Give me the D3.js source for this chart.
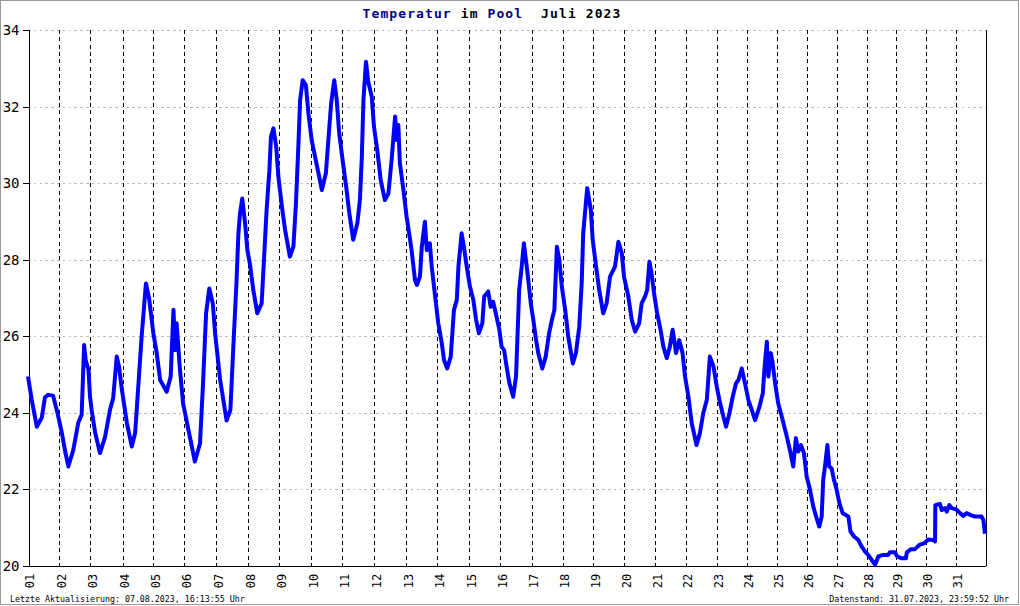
<!DOCTYPE html>
<html><head><meta charset="utf-8">
<script src="https://cdn.jsdelivr.net/npm/d3@7"></script>
<style>body{margin:0;background:#fff}svg{display:block}</style>
</head><body>
<svg id="c" width="1020" height="606"></svg>
<script>
// ---- data ----
const dayLabels = ["01","02","03","04","05","06","07","08","09","10","11","12","13","14","15","16","17","18","19","20","21","22","23","24","25","26","27","28","29","30","31"];
// number of logged measurements per day (x axis advances per measurement)
const samplesPerDay = [282,279,290,277,279,288,288,279,288,279,288,288,279,288,279,283,279,275,279,279,279,272,270,277,270,270,270,261,270,263,270];
const yTicks = [20,22,24,26,28,30,32,34];
// time in days since 01.07.2023 00:00
const time = [
0.00,0.12,0.28,0.44,0.54,0.64,0.80,0.86,0.94,
1.08,1.18,1.29,1.45,1.61,1.72,1.80,1.85,1.94,
1.99,2.04,2.15,2.30,2.46,2.61,2.71,2.82,2.89,2.98,
3.14,3.30,3.41,3.51,3.62,3.76,3.87,
4.00,4.11,4.22,4.43,4.56,4.65,4.70,4.75,4.86,4.96,
5.13,5.33,5.49,5.59,5.68,5.78,5.89,5.96,
6.12,6.32,6.44,6.53,6.63,6.69,6.74,6.81,6.90,6.97,
7.05,7.16,7.29,7.43,7.51,7.59,7.68,7.73,7.81,7.90,7.97,
8.08,8.18,8.33,8.44,8.52,8.59,8.65,8.73,8.83,8.91,
9.01,9.12,9.23,9.34,9.47,9.55,9.64,9.74,9.82,9.90,
10.01,10.12,10.22,10.34,10.47,10.55,10.61,10.66,10.74,10.81,10.92,
10.99,11.09,11.20,11.33,11.44,11.54,11.65,11.70,11.75,11.80,11.91,
12.01,12.06,12.17,12.28,12.34,12.44,12.50,12.60,12.66,12.76,12.82,12.93,
13.03,13.14,13.21,13.31,13.42,13.52,13.61,13.66,13.76,13.83,13.92,
14.02,14.13,14.22,14.31,14.42,14.48,14.61,14.69,14.77,14.88,14.97,
15.04,15.12,15.20,15.29,15.41,15.50,15.55,15.60,15.68,15.75,15.84,15.89,15.97,
16.05,16.14,16.21,16.34,16.45,16.56,16.65,16.73,16.81,16.89,16.97,
17.08,17.18,17.33,17.43,17.54,17.62,17.67,17.80,17.92,17.98,
18.09,18.19,18.32,18.43,18.54,18.70,18.81,18.92,
18.99,19.13,19.24,19.35,19.48,19.56,19.67,19.74,19.81,19.88,19.96,
20.06,20.17,20.26,20.37,20.47,20.56,20.67,20.77,20.88,20.96,
21.07,21.18,21.34,21.45,21.56,21.68,21.78,21.90,
22.01,22.12,22.23,22.32,22.43,22.54,22.65,22.73,22.84,22.95,
23.06,23.17,23.28,23.42,23.53,23.58,23.66,23.71,23.79,23.85,23.93,
24.03,24.15,24.29,24.42,24.53,24.62,24.70,24.79,24.89,
24.98,25.09,25.20,25.31,25.40,25.48,25.53,25.59,25.67,25.73,25.81,25.89,25.98,
26.07,26.18,26.29,26.37,26.44,26.56,26.70,26.81,26.92,
27.03,27.15,27.27,27.38,27.55,27.72,27.78,27.95,
28.03,28.18,28.32,28.35,28.48,28.62,28.77,28.92,
29.07,29.24,29.30,29.31,29.47,29.53,29.64,29.70,29.79,29.87,
30.02,30.15,30.26,30.37,30.51,30.65,30.87,30.93,30.98];
const temp = [
24.95,24.34,23.64,23.87,24.40,24.47,24.45,24.26,24.00,
23.48,23.03,22.60,23.03,23.74,23.95,25.77,25.38,25.12,
24.42,24.08,23.48,22.95,23.38,24.08,24.39,25.47,25.21,24.60,
23.74,23.12,23.48,24.68,25.99,27.38,26.95,
26.08,25.56,24.86,24.55,24.95,26.69,25.64,26.34,25.12,24.25,
23.55,22.73,23.20,24.86,26.60,27.25,26.86,26.10,
24.86,23.80,24.08,25.70,27.40,28.69,29.21,29.60,28.95,28.25,
27.90,27.21,26.60,26.86,28.08,29.30,30.34,31.21,31.43,30.95,30.17,
29.39,28.78,28.08,28.34,29.47,30.87,32.17,32.69,32.56,31.82,
31.13,30.69,30.26,29.82,30.26,31.13,32.09,32.69,32.17,31.30,
30.60,29.91,29.21,28.52,28.95,29.56,30.69,32.17,33.17,32.65,32.26,
31.47,30.87,30.08,29.56,29.73,30.60,31.74,31.13,31.52,30.52,29.82,
29.12,28.86,28.25,27.47,27.34,27.56,28.34,28.99,28.25,28.43,27.82,27.04,
26.34,25.82,25.38,25.16,25.47,26.69,26.95,27.82,28.69,28.34,27.82,
27.30,26.95,26.43,26.08,26.34,27.04,27.17,26.77,26.90,26.51,26.17,
25.73,25.64,25.21,24.77,24.42,24.95,26.08,27.21,27.82,28.43,27.82,27.47,26.86,
26.43,25.90,25.56,25.16,25.47,26.08,26.43,26.69,28.34,27.99,27.30,
26.69,25.99,25.29,25.56,26.25,27.38,28.69,29.87,29.30,28.52,
27.82,27.21,26.60,26.86,27.56,27.82,28.47,28.17,
27.56,27.04,26.43,26.12,26.34,26.86,27.04,27.21,27.95,27.64,27.12,
26.60,26.17,25.73,25.43,25.73,26.17,25.56,25.90,25.56,24.95,
24.42,23.73,23.16,23.47,23.99,24.34,25.47,25.21,
24.68,24.25,23.90,23.64,23.99,24.42,24.77,24.86,25.16,24.77,
24.34,24.08,23.81,24.16,24.51,25.12,25.86,24.95,25.56,25.29,24.77,
24.25,23.90,23.47,23.03,22.60,23.34,22.99,23.16,22.94,
22.33,21.99,21.55,21.25,21.03,21.29,22.25,22.60,23.16,22.60,22.55,22.25,21.99,
21.64,21.38,21.33,21.29,20.90,20.77,20.68,20.51,20.38,
20.29,20.16,20.03,20.25,20.29,20.29,20.36,20.36,
20.25,20.20,20.20,20.35,20.44,20.44,20.55,20.59,
20.69,20.68,20.64,21.59,21.62,21.46,21.51,21.42,21.59,21.51,
21.48,21.38,21.31,21.38,21.33,21.29,21.29,21.20,20.84];
const titleParts = [["Temperatur","#000080"],["im","#000"],["Pool","#000080"],["","#000"],["Juli","#000"],["2023","#000"]];
const footLeft = "Letzte Aktualisierung: 07.08.2023, 16:13:55 Uhr";
const footRight = "Datenstand: 31.07.2023, 23:59:52 Uhr";

// ---- layout ----
const L = 28, R = 985.5, T = 30, B = 566;
const svg = d3.select("#c");
const mono = "'DejaVu Sans Mono', 'Liberation Mono', monospace";

svg.append("rect").attr("x",0.5).attr("y",0.5).attr("width",1018).attr("height",604)
  .attr("fill","#fff").attr("stroke","#999");

const cum = [0]; samplesPerDay.forEach(n => cum.push(cum[cum.length-1] + n));
const dayToSample = d3.scaleLinear().domain(d3.range(cum.length)).range(cum);
const xs = d3.scaleLinear().domain([0, cum[cum.length-1]]).range([L, R]);
const x = t => xs(dayToSample(t));
const y = d3.scaleLinear().domain([20, 34]).range([B, T]);

// horizontal dotted grid
svg.append("g").selectAll("line").data(yTicks.filter(v => v > 20)).join("line")
  .attr("x1", L).attr("x2", R)
  .attr("y1", d => Math.round(y(d)) + 0.5).attr("y2", d => Math.round(y(d)) + 0.5)
  .attr("stroke","#bbb").attr("stroke-dasharray","2.5,3.3").attr("shape-rendering","crispEdges");

// vertical day separators
svg.append("g").selectAll("line").data(d3.range(1, 31)).join("line")
  .attr("x1", d => Math.round(x(d)) + 0.5).attr("x2", d => Math.round(x(d)) + 0.5)
  .attr("y1", T).attr("y2", B)
  .attr("stroke","#000").attr("stroke-dasharray","4,3.3").attr("shape-rendering","crispEdges");

// right border
svg.append("line").attr("x1", Math.round(R)+0.5).attr("x2", Math.round(R)+0.5).attr("y1", T).attr("y2", B)
  .attr("stroke","#000").attr("shape-rendering","crispEdges");

// y axis
const yAxis = d3.axisLeft(y).tickValues(yTicks).tickSize(6).tickPadding(3).tickFormat(d3.format("d"));
const gy = svg.append("g").attr("transform", `translate(${L+0.5},0)`).call(yAxis);
gy.select(".domain").attr("stroke","#000").attr("shape-rendering","crispEdges");
gy.selectAll(".tick line").attr("stroke","#000").attr("shape-rendering","crispEdges");
gy.selectAll(".tick text").attr("font-family", mono).attr("font-size", 14).attr("fill","#000");

// x axis
const gx = svg.append("g").attr("transform", `translate(0,${B+0.5})`);
gx.append("line").attr("x1", L).attr("x2", R).attr("stroke","#000").attr("shape-rendering","crispEdges");
gx.selectAll("text").data(dayLabels).join("text")
  .attr("transform", (d,i) => `translate(${x(i)+2},7) rotate(-90)`)
  .attr("text-anchor","end").attr("dy","0.35em")
  .attr("font-family", mono).attr("font-size", 12).attr("letter-spacing", 0.2)
  .text(d => d);

// data line
const line = d3.line().x(d => x(d[0])).y(d => y(d[1]));
svg.append("path").datum(time.map((t,i) => [t, temp[i]]))
  .attr("d", line).attr("fill","none").attr("stroke","#0000ff")
  .attr("stroke-width", 4).attr("stroke-linejoin","round").attr("stroke-linecap","butt");

// title
const title = svg.append("text").attr("x", 492).attr("y", 18).attr("text-anchor","middle")
  .attr("font-family", mono).attr("font-weight","bold").attr("font-size", 13)
  .attr("letter-spacing", 1.1).attr("xml:space","preserve");
titleParts.forEach((p, i) => title.append("tspan").attr("fill", p[1]).text((i ? " " : "") + p[0]));

// footers
svg.append("text").attr("x", 10).attr("y", 602).attr("font-family", mono)
  .attr("font-size", 8.3).attr("letter-spacing", 0).text(footLeft);
svg.append("text").attr("x", 1009).attr("y", 602).attr("text-anchor","end").attr("font-family", mono)
  .attr("font-size", 8.3).attr("letter-spacing", 0).text(footRight);
</script>
</body></html>
